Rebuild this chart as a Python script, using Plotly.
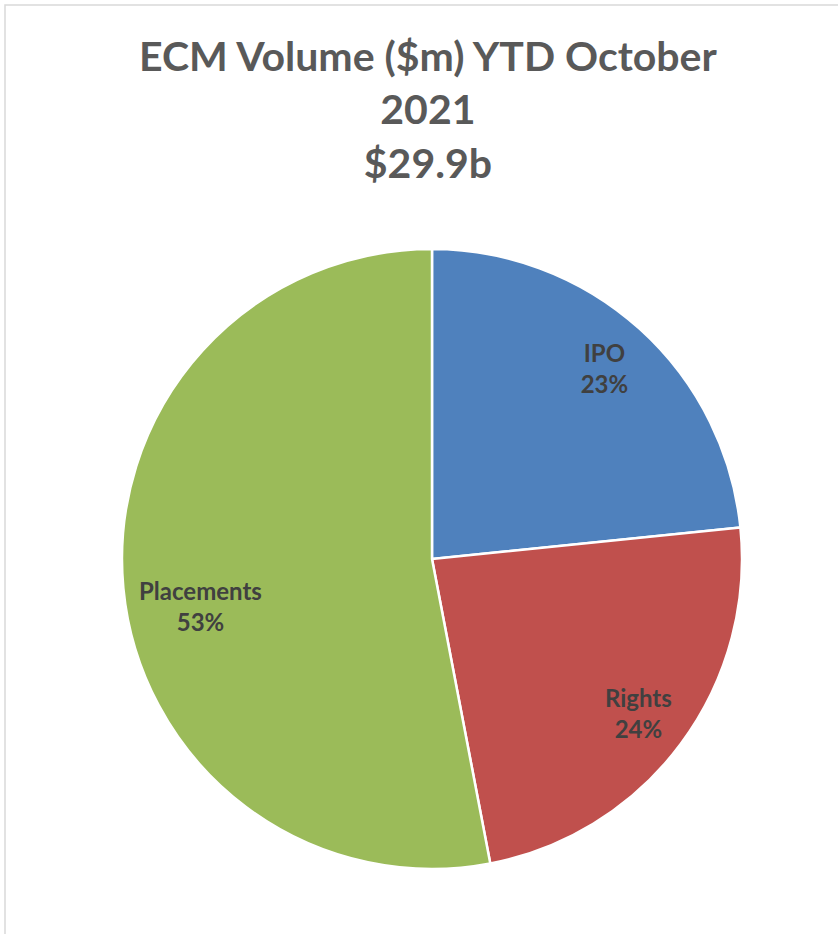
import plotly.graph_objects as go

categories = ["IPO", "Rights", "Placements"]
values_musd = [6990, 7060, 15850]
colors = ["#4F81BD", "#C0504D", "#9BBB59"]
title_lines = ["ECM Volume ($m) YTD October", "2021", "$29.9b"]

W, H = 838, 934
FONT = "Lato, Open Sans, sans-serif"
dom = dict(x=[122 / W, 742 / W], y=[1 - 869 / H, 1 - 249 / H])
lbl = "<b>%{label}</b><br><b>%{percent:.0%}</b>"
# blank (no-break space) lines on top push the Placements label a little lower
lbl_low = "\u00a0<br>" * 3 + "<b>%{label}</b><br><b>%{percent:.0%}</b>"

common = dict(labels=categories, values=values_musd, sort=False,
              direction="clockwise", rotation=0, domain=dom, showlegend=False)

fig = go.Figure()
# the visible slices
fig.add_trace(go.Pie(
    **common,
    marker=dict(colors=colors, line=dict(color="white", width=2.5)),
    textinfo="none",
    hoverinfo="label+value+percent",
))
# transparent ring carrying the labels of the smaller slices (placed further out)
fig.add_trace(go.Pie(
    **common,
    hole=0.66,
    marker=dict(colors=["rgba(0,0,0,0)"] * 3, line=dict(width=0)),
    texttemplate=[lbl, lbl, ""],
    textposition="inside",
    insidetextorientation="horizontal",
    textfont=dict(family=FONT, size=24, color="#404040"),
    hoverinfo="skip",
))
# transparent ring carrying the Placements label
fig.add_trace(go.Pie(
    **common,
    hole=0.53,
    marker=dict(colors=["rgba(0,0,0,0)"] * 3, line=dict(width=0)),
    texttemplate=["", "", lbl_low],
    textposition="inside",
    insidetextorientation="horizontal",
    textfont=dict(family=FONT, size=24, color="#404040"),
    hoverinfo="skip",
))

fig.update_layout(
    width=W, height=H,
    margin=dict(l=0, r=0, t=0, b=0),
    paper_bgcolor="white",
    plot_bgcolor="white",
    annotations=[dict(
        text="<b>" + "<br>".join(title_lines) + "</b>",
        xref="paper", yref="paper",
        x=428 / W, xanchor="center",
        y=1 - 29 / H, yanchor="top",
        showarrow=False,
        font=dict(family=FONT, size=41, color="#595959"),
    )],
    shapes=[dict(
        type="rect", xref="paper", yref="paper",
        x0=5 / W, x1=1.2, y0=-0.2, y1=1 - 5 / H,
        line=dict(color="#D9D9D9", width=1.5), fillcolor="rgba(0,0,0,0)",
        layer="below",
    )],
)

fig.write_html("out.html", config={"displayModeBar": False},
               post_script="document.body.style.margin='0';")
